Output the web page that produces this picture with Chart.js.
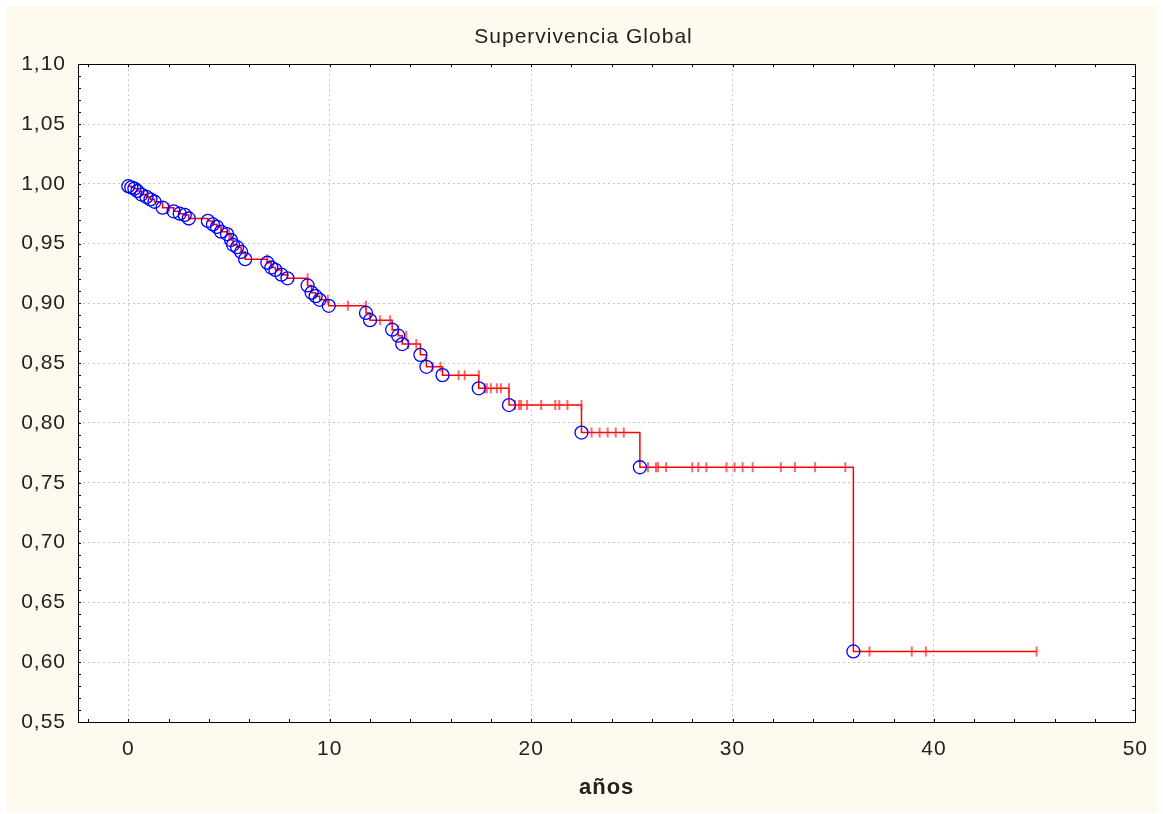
<!DOCTYPE html>
<html>
<head>
<meta charset="utf-8">
<script src="https://cdn.jsdelivr.net/npm/chart.js@4"></script>
<style>
  body { margin: 0; background: #ffffff; }
  canvas { display: block; }
</style>
</head>
<body>
<canvas id="km-chart" width="1163" height="814"></canvas>
<script>
// events (circles) of the Kaplan-Meier curve
const eventTimes = [0, 0.15, 0.3, 0.45, 0.65, 0.9, 1.1, 1.3, 1.7, 2.25, 2.55, 2.8, 3.0, 3.95, 4.2, 4.4, 4.6, 4.9, 5.1, 5.2, 5.4, 5.6, 5.8, 6.9, 7.1, 7.3, 7.6, 7.9, 8.9, 9.1, 9.3, 9.5, 9.95, 11.8, 12.0, 13.1, 13.4, 13.6, 14.5, 14.8, 15.6, 17.4, 18.9, 22.5, 25.4, 36.0];
const eventSurv = [0.998, 0.997, 0.996, 0.994, 0.991, 0.989, 0.987, 0.985, 0.980, 0.977, 0.975, 0.974, 0.971, 0.969, 0.966, 0.964, 0.960, 0.958, 0.953, 0.949, 0.947, 0.943, 0.937, 0.934, 0.930, 0.928, 0.924, 0.921, 0.915, 0.909, 0.906, 0.903, 0.898, 0.892, 0.886, 0.878, 0.873, 0.866, 0.857, 0.847, 0.840, 0.829, 0.815, 0.792, 0.763, 0.609];
const lastTime = 45.1;

// censored cases (red ticks)
const censTimes = [2.0, 5.0, 6.9, 8.9, 9.9, 10.9, 11.8, 12.5, 13.0, 13.4, 13.8, 13.9, 14.3, 15.1, 15.5, 16.4, 16.7, 17.4, 17.7, 17.8, 18.0, 18.3, 18.5, 18.9, 19.2, 19.4, 19.5, 19.8, 20.5, 21.2, 21.4, 21.8, 22.5, 23.0, 23.4, 23.8, 24.2, 24.6, 25.8, 26.2, 26.3, 26.7, 28.0, 28.3, 28.7, 29.7, 30.1, 30.5, 31.0, 32.4, 33.1, 34.1, 35.6, 36.8, 38.9, 39.6, 45.1];
const censSurv = [0.980, 0.958, 0.937, 0.921, 0.903, 0.898, 0.898, 0.886, 0.886, 0.878, 0.873, 0.866, 0.866, 0.847, 0.847, 0.840, 0.840, 0.840, 0.829, 0.829, 0.829, 0.829, 0.829, 0.829, 0.815, 0.815, 0.815, 0.815, 0.815, 0.815, 0.815, 0.815, 0.815, 0.792, 0.792, 0.792, 0.792, 0.792, 0.763, 0.763, 0.763, 0.763, 0.763, 0.763, 0.763, 0.763, 0.763, 0.763, 0.763, 0.763, 0.763, 0.763, 0.763, 0.609, 0.609, 0.609, 0.609];

const xTicks = [0, 10, 20, 30, 40, 50];
const yTicks = [0.55, 0.60, 0.65, 0.70, 0.75, 0.80, 0.85, 0.90, 0.95, 1.00, 1.05, 1.10];

const eventPoints = eventTimes.map((t, i) => ({ x: t, y: eventSurv[i] }));
const stepPoints = eventPoints.concat([{ x: lastTime, y: eventSurv[eventSurv.length - 1] }]);
const censPoints = censTimes.map((t, i) => ({ x: t, y: censSurv[i] }));

const FONT = "'Liberation Sans', Arial, sans-serif";

// the original texts are a bit spread out
const spacing = (chart) => { chart.ctx.letterSpacing = "1px"; };

// cream page, white plot area, frame and small inward ticks
const framePlugin = {
  id: "frame",
  beforeUpdate: spacing,
  beforeLayout: spacing,
  afterLayout(chart) {
    // title is centred on the whole picture, not on the padded box
    if (chart.titleBlock) {
      chart.titleBlock.left = 4;
      chart.titleBlock.right = chart.width;
    }
  },
  beforeDraw(chart) {
    spacing(chart);
    const { ctx, chartArea: a } = chart;
    ctx.save();
    ctx.fillStyle = "#fffaf0";
    ctx.fillRect(6, 6, chart.width - 12, chart.height - 8);
    ctx.fillStyle = "#ffffff";
    ctx.fillRect(a.left, a.top, a.right - a.left, a.bottom - a.top);
    ctx.restore();
  },
  afterDraw(chart) {
    const { ctx, chartArea: a, scales } = chart;
    ctx.save();
    ctx.strokeStyle = "#000000";
    ctx.lineWidth = 1;
    ctx.beginPath();
    for (let v = -2; v <= 50; v += 2) {
      const px = Math.round(scales.x.getPixelForValue(v)) + 0.5;
      ctx.moveTo(px, a.bottom); ctx.lineTo(px, a.bottom - 3);
      ctx.moveTo(px, a.top); ctx.lineTo(px, a.top + 3);
    }
    for (let k = 55; k <= 110; k++) {
      const py = Math.round(scales.y.getPixelForValue(k / 100)) + 0.5;
      ctx.moveTo(a.left, py); ctx.lineTo(a.left + 3, py);
      ctx.moveTo(a.right, py); ctx.lineTo(a.right - 3, py);
    }
    ctx.stroke();
    ctx.strokeRect(Math.round(a.left) + 0.5, Math.round(a.top) + 0.5, Math.round(a.right - a.left), Math.round(a.bottom - a.top));
    ctx.restore();
  }
};

new Chart(document.getElementById("km-chart").getContext("2d"), {
  type: "scatter",
  data: {
    datasets: [
      {
        label: "Completos",
        data: eventPoints,
        showLine: false,
        pointStyle: "circle",
        pointRadius: 6.5,
        borderColor: "#0000ff",
        backgroundColor: "rgba(0,0,0,0)",
        borderWidth: 1.3,
      },
      {
        label: "Censurados",
        data: censPoints,
        showLine: false,
        pointStyle: "line",
        rotation: 90,
        pointRadius: 5,
        borderColor: "rgba(255,40,40,0.7)",
        borderWidth: 2,
      },
      {
        label: "Supervivencia",
        data: stepPoints,
        showLine: true,
        stepped: "before",
        pointRadius: 0,
        borderColor: "#ff0000",
        borderWidth: 1.5,
        fill: false,
      },
    ],
  },
  options: {
    responsive: false,
    animation: false,
    layout: { padding: { left: 0, right: 27, top: 0, bottom: 9 } },
    plugins: {
      legend: { display: false },
      tooltip: { enabled: false },
      title: {
        display: true,
        text: "Supervivencia Global",
        color: "#222222",
        font: { family: FONT, size: 21, weight: "normal" },
        padding: { top: 25, bottom: 14 },
      },
    },
    scales: {
      x: {
        type: "linear",
        min: -2.5,
        max: 50,
        afterBuildTicks: (scale) => { scale.ticks = xTicks.map((v) => ({ value: v })); },
        afterFit: (scale) => { scale.height = 83; },
        ticks: {
          color: "#222222",
          font: { family: FONT, size: 21 },
          padding: 15,
          maxRotation: 0,
        },
        grid: { color: "#c4c4c4", drawTicks: false },
        border: { display: false, dash: [2, 3] },
        title: {
          display: true,
          text: "años",
          color: "#222222",
          font: { family: FONT, size: 22, weight: "bold" },
        },
      },
      y: {
        type: "linear",
        min: 0.55,
        max: 1.10,
        afterBuildTicks: (scale) => { scale.ticks = yTicks.map((v) => ({ value: v })); },
        afterFit: (scale) => { scale.width = 78; },
        ticks: {
          color: "#222222",
          font: { family: FONT, size: 21 },
          padding: 12,
          callback: (v) => Number(v).toFixed(2).replace(".", ","),
        },
        grid: { color: "#c4c4c4", drawTicks: false },
        border: { display: false, dash: [2, 3] },
      },
    },
  },
  plugins: [framePlugin],
});
</script>
</body>
</html>
